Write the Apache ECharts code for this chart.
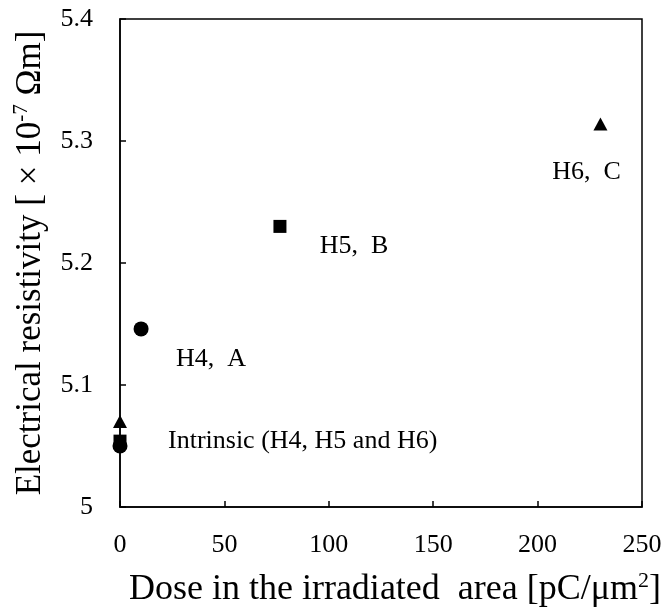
<!DOCTYPE html>
<html>
<head>
<meta charset="utf-8">
<script src="https://cdn.jsdelivr.net/npm/echarts@6/dist/echarts.min.js"></script>
<style>html,body{margin:0;padding:0;background:#fff;}#c{width:670px;height:613px;}</style>
</head>
<body>
<div id="c"></div>
<script>
// Data
const circleData = [[0, 5.050], [10.1, 5.146]];
const squareData = [[0, 5.054], [76.6, 5.230]];
const triangleData = [[0, 5.070], [230.1, 5.314]];
const pointLabels = {
  circle: ['', 'H4,  A'],
  square: ['Intrinsic (H4, H5 and H6)', 'H5,  B'],
  triangle: ['', 'H6,  C']
};
const xTickLabels = ['0', '50', '100', '150', '200', '250'];
const yTickLabels = ['5', '5.1', '5.2', '5.3', '5.4'];

const FONT = 'Liberation Serif';
const chart = echarts.init(document.getElementById('c'), null, {renderer: 'canvas'});

function labelCfg(texts, offsets, aligns) {
  return function (idx) {
    return {
      show: !!texts[idx],
      position: 'inside',
      formatter: texts[idx],
      offset: offsets[idx],
      align: aligns[idx],
      verticalAlign: 'middle',
      color: '#000',
      fontFamily: FONT,
      fontSize: 26
    };
  };
}

function build(data, texts, offsets, aligns) {
  const f = labelCfg(texts, offsets, aligns);
  return data.map((d, i) => ({value: d, label: f(i)}));
}

const markerStyle = {color: '#000', opacity: 1};

chart.setOption({
  animation: false,
  backgroundColor: '#fff',
  grid: {left: 120, right: 28, top: 19, bottom: 105, show: true, borderColor: '#000', borderWidth: 1.5, backgroundColor: 'transparent'},
  xAxis: {
    type: 'value', min: 0, max: 250, interval: 50,
    axisLine: {show: true, onZero: false, lineStyle: {color: '#000', width: 1.5}},
    axisTick: {show: true, inside: true, length: 6, lineStyle: {color: '#000', width: 1.5}},
    splitLine: {show: false},
    axisLabel: {color: '#000', fontFamily: FONT, fontSize: 26, margin: 25,
      formatter: (v) => xTickLabels[Math.round(v / 50)]},
    name: '{n|Dose in the irradiated  area [pC/μm}{s|2}{n|]}',
    nameLocation: 'middle', nameGap: 63,
    nameTextStyle: {padding: [0, 0, 0, 28], rich: {
      n: {fontFamily: FONT, fontSize: 36, color: '#000', lineHeight: 38, verticalAlign: 'bottom'},
      s: {fontFamily: FONT, fontSize: 22, color: '#000', lineHeight: 38, verticalAlign: 'top'}
    }}
  },
  yAxis: {
    type: 'value', min: 5, max: 5.4, interval: 0.1,
    axisLine: {show: true, onZero: false, lineStyle: {color: '#000', width: 1.5}},
    axisTick: {show: true, inside: true, length: 6, lineStyle: {color: '#000', width: 1.5}},
    splitLine: {show: false},
    axisLabel: {color: '#000', fontFamily: FONT, fontSize: 26, margin: 27,
      formatter: (v) => yTickLabels[Math.round((v - 5) * 10)]},
    name: '{n|Electrical resistivity [ × 10}{s|-7}{n| Ωm]}',
    nameLocation: 'middle', nameGap: 72, nameRotate: 90,
    nameTextStyle: {rich: {
      n: {fontFamily: FONT, fontSize: 35, color: '#000', lineHeight: 37, verticalAlign: 'bottom'},
      s: {fontFamily: FONT, fontSize: 21, color: '#000', lineHeight: 37, verticalAlign: 'top'}
    }}
  },
  series: [
    {type: 'scatter', symbol: 'rect', symbolSize: 13, itemStyle: markerStyle,
      data: build(squareData, pointLabels.square, [[48, 0], [74, 20]], ['left', 'center'])},
    {type: 'scatter', symbol: 'circle', symbolSize: 15, itemStyle: markerStyle,
      data: build(circleData, pointLabels.circle, [[0, 0], [70, 30]], ['center', 'center'])},
    {type: 'scatter', symbol: 'triangle', symbolSize: [14, 13], itemStyle: markerStyle,
      data: build(triangleData, pointLabels.triangle, [[0, 0], [-14, 48]], ['center', 'center'])}
  ]
});
</script>
</body>
</html>
